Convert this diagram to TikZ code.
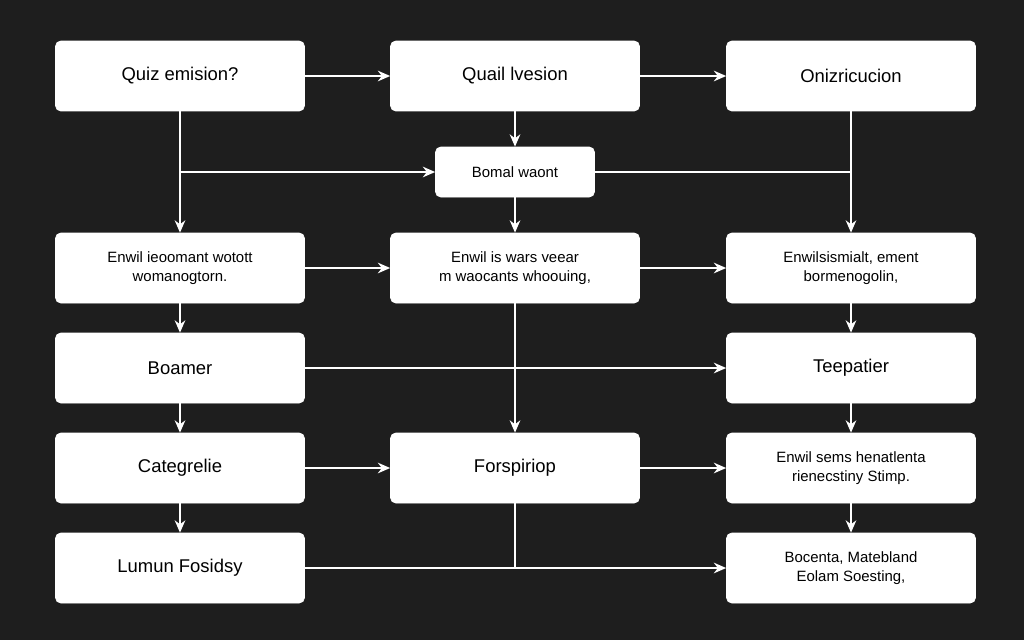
\documentclass[tikz,border=0pt]{standalone}
\usepackage{fontspec}
\setmainfont{Liberation Sans}
\usetikzlibrary{arrows.meta,positioning}
\definecolor{bgdark}{HTML}{1E1E1E}

\begin{document}
\begin{tikzpicture}[
  x=0.02cm, y=-0.02cm,
  box/.style={
    rectangle, rounded corners=3pt,
    draw=white, fill=white, text=black,
    minimum width=4.98cm, minimum height=1.4cm,
    align=center, font=\fontsize{10.5}{12}\selectfont
  },
  small/.style={box, font=\fontsize{8.5}{11}\selectfont},
  mini/.style={small, minimum width=3.18cm, minimum height=1cm},
  arr/.style={-{Stealth[length=7pt,width=6pt]}, white, line width=1.1pt},
  line/.style={white, line width=1.1pt},
]
\fill[bgdark] (0,0) rectangle (1024,640);

% top row
\node[box] (q1) at (180,76) {Quiz emision?};
\node[box] (q2) at (515,76) {Quail lvesion};
\node[box] (q3) at (851,76) {Onizricucion};
\node[mini] (bm) at (515,172) {Bomal waont};

% second row
\node[small] (e1) at (180,268) {Enwil ieoomant wotott\\womanogtorn.};
\node[small] (e2) at (515,268) {Enwil is wars veear\\m waocants whoouing,};
\node[small] (e3) at (851,268) {Enwilsismialt, ement\\bormenogolin,};

% third row
\node[box] (b1) at (180,368) {Boamer};
\node[box] (b3) at (851,368) {Teepatier};

% fourth row
\node[box] (c1) at (180,468) {Categrelie};
\node[box] (c2) at (515,468) {Forspiriop};
\node[small] (c3) at (851,468) {Enwil sems henatlenta\\rienecstiny Stimp.};

% fifth row
\node[box] (l1) at (180,568) {Lumun Fosidsy};
\node[small] (l3) at (851,568) {Bocenta, Matebland\\Eolam Soesting,};

% Arrows
\draw[arr] (q1) -- (q2);
\draw[arr] (q2) -- (q3);
\draw[arr] (q2) -- (bm);
\draw[arr] (q1) -- (e1);
\draw[arr] (q1.south |- bm.west) -- (bm.west);
\draw[arr] (q3) -- (e3);
\draw[line] (bm.east) -- (bm.east -| q3.south);
\draw[arr] (bm) -- (e2);
\draw[arr] (e1) -- (e2);
\draw[arr] (e2) -- (e3);
\draw[arr] (e1) -- (b1);
\draw[arr] (e3) -- (b3);
\draw[arr] (b1) -- (b3);
\draw[arr] (e2) -- (c2);
\draw[arr] (b1) -- (c1);
\draw[arr] (b3) -- (c3);
\draw[arr] (c1) -- (c2);
\draw[arr] (c2) -- (c3);
\draw[arr] (c1) -- (l1);
\draw[arr] (c3) -- (l3);
\draw[line] (c2.south) -- (c2.south |- l1.east);
\draw[arr] (l1) -- (l3);

\end{tikzpicture}
\end{document}
